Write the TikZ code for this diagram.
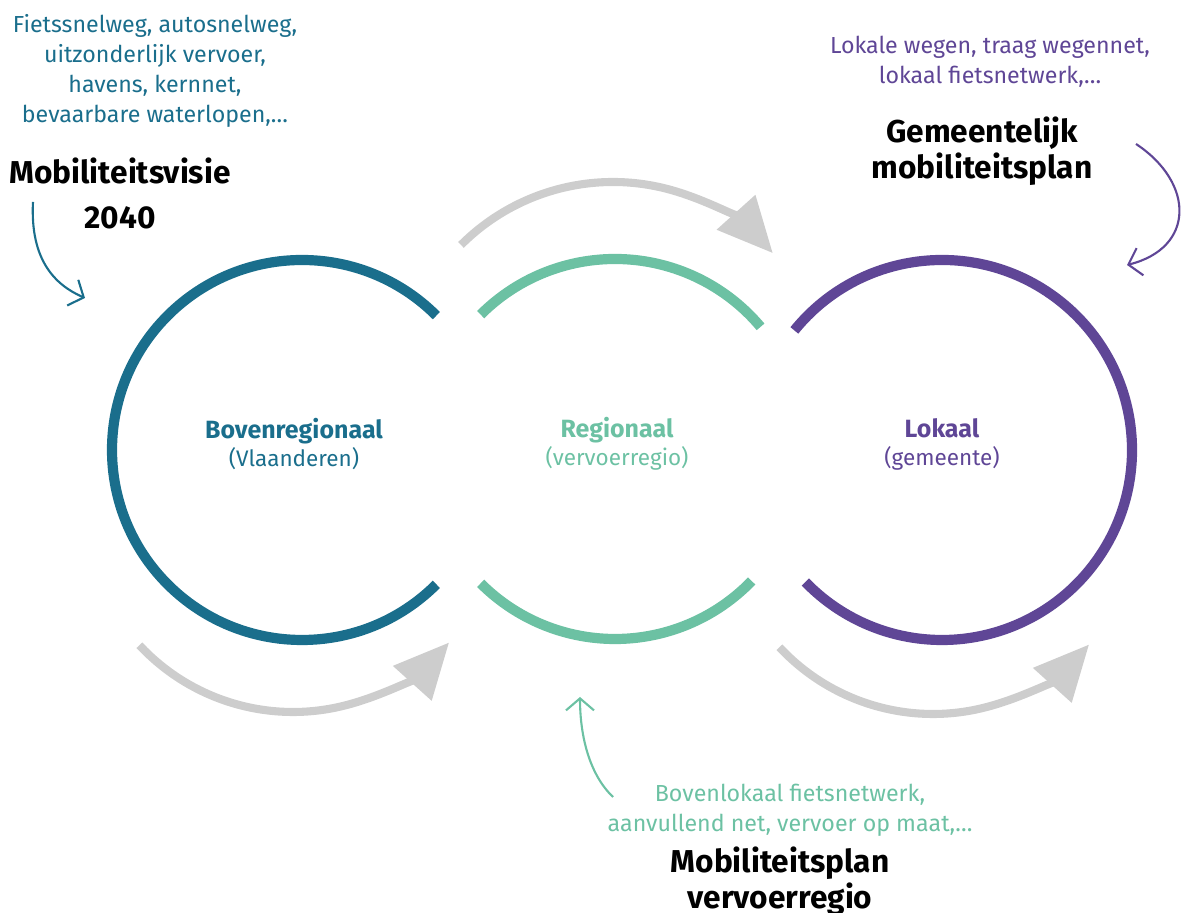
\documentclass[tikz,border=0pt]{standalone}
\usepackage{fontspec}
\setmainfont{Fira Sans}
\usetikzlibrary{arrows.meta}
\definecolor{vlteal}{HTML}{1A6E8C}
\definecolor{vlgreen}{HTML}{6CC1A3}
\definecolor{vlpurple}{HTML}{5F4696}
\definecolor{vlgrey}{HTML}{CDCDCD}
\newcommand{\leveltitle}[1]{{\fontsize{7.1}{8}\selectfont\bfseries #1}}

\begin{document}
\begin{tikzpicture}[
    ring/.style={line width=2.9pt},
    flow/.style={line width=2.3pt, vlgrey, -{Triangle[length=0.55cm, width=0.5cm]}},
    hint/.style={line width=0.6pt, -{Straight Barb[length=1.2mm, width=2.8mm]}},
    small/.style={align=center, font=\fontsize{6.6}{8.6}\selectfont},
    plan/.style={align=center, font=\fontsize{9}{8.8}\selectfont\bfseries},
    level/.style={align=center, font=\fontsize{6.4}{8}\selectfont}]
  \useasboundingbox (0,0) rectangle (11.84,9.13);
  \coordinate (boven) at (3.02,4.63);
  \coordinate (regio) at (6.15,4.64);
  \coordinate (lokaal) at (9.42,4.63);
  \draw[ring, vlteal] ([shift={(45:1.9)}]boven) arc[start angle=45, end angle=315, radius=1.9];
  \draw[ring, vlgreen] ([shift={(135:1.9)}]regio) arc[start angle=135, end angle=40, radius=1.9];
  \draw[ring, vlgreen] ([shift={(225:1.9)}]regio) arc[start angle=225, end angle=316, radius=1.9];
  \draw[ring, vlpurple] ([shift={(141:1.9)}]lokaal) arc[start angle=141, end angle=-136, radius=1.9];
  \draw[flow] (6.13,5.16) ++(135:2.15) arc[start angle=135, end angle=42, radius=2.15];
  \draw[flow] (2.93,4.11) ++(223:2.1) arc[start angle=223, end angle=318, radius=2.1];
  \draw[flow] (9.33,4.09) ++(223:2.1) arc[start angle=223, end angle=318, radius=2.1];
  \node[level, vlteal] (bovenlabel) at (2.94,4.69) {\leveltitle{Bovenregionaal}\\(Vlaanderen)};
  \node[level, vlgreen] (regiolabel) at (6.17,4.69) {\leveltitle{Regionaal}\\(vervoerregio)};
  \node[level, vlpurple] (lokaallabel) at (9.42,4.69) {\leveltitle{Lokaal}\\(gemeente)};
  \node[small, vlteal] (bovennet) at (1.55,8.42) {Fietssnelweg, autosnelweg,\\uitzonderlijk vervoer,\\havens, kernnet,\\bevaarbare waterlopen,\dots};
  \node[plan] (visie) at (1.20,7.20) {Mobiliteitsvisie\\[4pt]2040};
  \node[small, vlpurple] (lokaalnet) at (9.90,8.51) {Lokale wegen, traag wegennet,\\lokaal fietsnetwerk,\dots};
  \node[plan] (gemplan) at (9.82,7.62) {Gemeentelijk\\mobiliteitsplan};
  \node[small, vlgreen] (regionet) at (7.90,1.03) {Bovenlokaal fietsnetwerk,\\aanvullend net, vervoer op maat,\dots};
  \node[plan] (regioplan) at (7.80,0.32) {Mobiliteitsplan\\vervoerregio};
  \coordinate (visiestart) at (0.33,7.11);
  \coordinate (visieend) at (0.85,6.15);
  \coordinate (gemstart) at (11.36,7.69);
  \coordinate (gemend) at (11.27,6.48);
  \coordinate (regiostart) at (6.13,1.16);
  \coordinate (regioend) at (5.80,2.16);
  \draw[hint, vlteal] (visiestart) .. controls (0.30,6.53) and (0.55,6.28) .. (visieend);
  \draw[hint, vlpurple] (gemstart) .. controls (11.95,7.30) and (11.95,6.65) .. (gemend);
  \draw[hint, vlgreen] (regiostart) .. controls (5.88,1.40) and (5.80,1.80) .. (regioend);
\end{tikzpicture}
\end{document}
